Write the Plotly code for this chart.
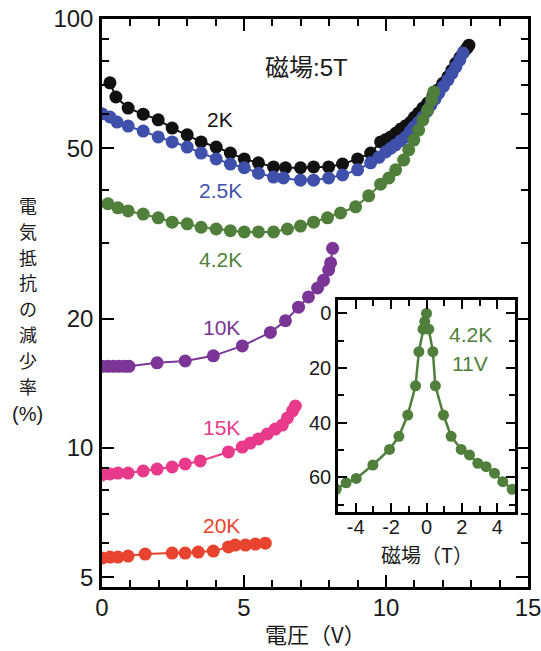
import plotly.graph_objects as go

W, H = 541, 651

# ---------------- data ----------------
v_2k = [0.28, 0.49, 0.92, 1.45, 1.98, 2.47, 3.0, 3.49, 4.02, 4.52, 5.01, 5.51, 6.04, 6.46,
        6.99, 7.45, 7.98, 8.47, 9.0, 9.46, 9.81, 10.0, 10.17, 10.35, 10.52, 10.7, 10.87,
        11.0, 11.15, 11.3, 11.47, 11.65, 11.82, 12.0, 12.18, 12.32, 12.46, 12.6, 12.74,
        12.85, 12.92]
r_2k = [71.0, 65.8, 62.0, 60.0, 58.2, 55.7, 53.7, 51.7, 50.3, 48.7, 47.2, 46.2, 45.2, 45.0,
        45.0, 45.2, 45.2, 45.9, 47.2, 48.7, 51.7, 52.4, 53.1, 54.2, 55.4, 56.4, 57.5,
        59.0, 60.4, 62.0, 63.7, 66.0, 68.3, 70.8, 73.3, 76.0, 78.9, 81.3, 83.8,
        85.5, 86.9]

v_25k = [0.0, 0.28, 0.53, 0.92, 1.45, 1.98, 2.47, 3.0, 3.49, 4.02, 4.52, 5.01, 5.51, 6.04,
         6.39, 6.99, 7.45, 7.98, 8.47, 9.0, 9.46, 9.75, 9.99, 10.17, 10.34, 10.52, 10.7,
         10.85, 10.98, 11.15, 11.3, 11.45, 11.58, 11.72, 11.86, 12.02, 12.18, 12.32, 12.46,
         12.6, 12.71]
r_25k = [60.1, 59.1, 57.5, 56.3, 54.8, 53.1, 51.7, 50.3, 48.7, 47.2, 45.9, 45.0, 43.7, 42.8,
         42.6, 42.1, 42.1, 42.6, 43.3, 44.5, 46.2, 47.6, 49.0, 50.0, 50.9, 52.0, 53.1,
         54.6, 56.0, 57.5, 59.1, 61.0, 63.0, 65.0, 67.2, 69.6, 72.1, 74.7, 77.3,
         80.3, 83.3]

v_42k = [0.21, 0.56, 0.92, 1.45, 1.98, 2.47, 3.0, 3.49, 4.02, 4.52, 5.01, 5.51, 6.04, 6.53,
         6.99, 7.45, 7.94, 8.4, 8.93, 9.39, 9.81, 10.1, 10.34, 10.62, 10.8, 10.98, 11.15,
         11.3, 11.47, 11.61, 11.68]
r_42k = [37.1, 36.3, 35.7, 35.1, 34.4, 33.6, 33.3, 32.7, 32.4, 32.1, 31.9, 31.9, 31.9, 32.4,
         32.9, 33.6, 34.4, 35.3, 36.5, 38.7, 41.2, 42.6, 44.5, 46.9, 49.5, 52.2, 55.1,
         58.2, 61.4, 64.8, 67.6]

v_10k = [0.0, 0.2, 0.4, 0.6, 0.8, 0.95, 1.94, 2.93, 3.92, 4.94, 5.93, 6.46, 6.92, 7.27,
         7.59, 7.8, 7.98, 8.05, 8.12]
r_10k = [15.5, 15.5, 15.5, 15.5, 15.5, 15.5, 15.8, 15.95, 16.4, 17.3, 18.6, 19.8, 21.3, 22.5,
         23.6, 24.6, 26.0, 27.0, 29.2]

v_15k = [0.0, 0.28, 0.56, 0.92, 1.45, 1.94, 2.47, 2.93, 3.46, 4.45, 4.94, 5.22, 5.51, 5.82,
         6.1, 6.35, 6.53, 6.71, 6.81]
r_15k = [8.65, 8.70, 8.74, 8.74, 8.84, 8.93, 9.03, 9.18, 9.33, 9.79, 10.05, 10.27, 10.5, 10.78,
         11.07, 11.31, 11.75, 12.2, 12.53]

v_20k = [0.0, 0.28, 0.56, 0.92, 1.52, 2.47, 2.93, 3.39, 3.92, 4.45, 4.69, 5.05, 5.4, 5.75]
r_20k = [5.54, 5.57, 5.57, 5.60, 5.66, 5.69, 5.69, 5.72, 5.75, 5.88, 5.94, 5.94, 5.97, 6.0]

inset_b = [-5.1, -4.54, -3.97, -3.03, -2.09, -1.56, -1.06, -0.62, -0.43, -0.2, -0.1, 0.0,
           0.13, 0.36, 0.5, 0.96, 1.39, 1.96, 2.43, 2.9, 3.37, 3.84, 4.31, 4.84]
inset_r = [64.4, 62.0, 60.4, 55.5, 49.8, 45.0, 37.2, 26.5, 14.0, 5.8, 3.0, 0.0,
           5.8, 14.0, 26.5, 37.2, 45.0, 49.8, 51.8, 54.9, 56.1, 58.5, 61.6, 64.4]

series = [
    ("2K", v_2k, r_2k, "#111111"),
    ("2.5K", v_25k, r_25k, "#3f50ab"),
    ("4.2K", v_42k, r_42k, "#4f7f3b"),
    ("10K", v_10k, r_10k, "#7a3596"),
    ("15K", v_15k, r_15k, "#e8398b"),
    ("20K", v_20k, r_20k, "#e8432f"),
]
GREEN = "#4f7f3b"

main_yticks = [5, 10, 20, 50, 100]
main_yminor = [6, 7, 8, 9, 30, 40, 60, 70, 80, 90]
main_xticks = [0, 5, 10, 15]
inset_xticks = [-4, -2, 0, 2, 4]
inset_xticktext = ["-4", "-2", "0", "2", "4"]
inset_yticks = [0, 20, 40, 60]
ytitle_chars = ["電", "気", "抵", "抗", "の", "減", "少", "率"]
ytitle_unit = "(%)"

# ---------------- helpers ----------------
def px(x):
    return x / W

def py(y):
    return 1 - y / H

FONT = "Liberation Sans, Arial, Noto Sans CJK JP"
JFONT = "Noto Sans CJK JP, Liberation Sans"

fig = go.Figure()
for name, xs, ys, col in series:
    fig.add_trace(go.Scatter(
        x=xs, y=ys, mode="lines+markers", name=name,
        line=dict(color=col, width=2),
        marker=dict(color=col, size=13),
        xaxis="x", yaxis="y", showlegend=False))

fig.add_trace(go.Scatter(
    x=inset_b, y=inset_r, mode="lines+markers",
    line=dict(color=GREEN, width=2.5), marker=dict(color=GREEN, size=11),
    xaxis="x2", yaxis="y2", showlegend=False))

axis_common = dict(showline=True, linecolor="black", linewidth=2.5, mirror="ticks",
                   ticks="inside", tickwidth=2, tickcolor="black", showgrid=False,
                   zeroline=False, automargin=False, ticklabeloverflow="allow")

fig.update_layout(
    width=W, height=H, autosize=False,
    margin=dict(l=0, r=0, t=0, b=0, pad=0, autoexpand=False),
    paper_bgcolor="white", plot_bgcolor="rgba(0,0,0,0)",
    font=dict(family=FONT, color="#1a1a1a"),
    xaxis=dict(domain=[px(102), px(528)], range=[0, 15], anchor="y",
               tickmode="array", tickvals=main_xticks, ticklen=12, ticklabelstandoff=-3,
               minor=dict(dtick=1, ticks="inside", ticklen=7, tickwidth=2, tickcolor="black"),
               tickfont=dict(size=24), **axis_common),
    yaxis=dict(domain=[py(587), py(19)], type="log", range=[0.676, 2.0], anchor="x",
               tickmode="array", tickvals=main_yticks, ticktext=[str(t) for t in main_yticks],
               ticklen=12, ticklabelstandoff=1,
               minor=dict(tickmode="array", tickvals=main_yminor, ticks="inside", ticklen=7,
                          tickwidth=2, tickcolor="black"),
               tickfont=dict(size=24), **axis_common),
    xaxis2=dict(domain=[px(338), px(515)], range=[-5, 5], anchor="y2",
                tickmode="array", tickvals=inset_xticks, ticktext=inset_xticktext,
                ticklen=9, ticklabelstandoff=-5,
                minor=dict(dtick=1, ticks="inside", ticklen=6, tickwidth=2, tickcolor="black"),
                tickfont=dict(size=20), **axis_common),
    yaxis2=dict(domain=[py(512), py(300)], range=[72.7, -4.9], anchor="x2",
                tickmode="array", tickvals=inset_yticks, ticklen=9,
                minor=dict(dtick=10, tick0=0, ticks="inside", ticklen=6, tickwidth=2, tickcolor="black"),
                tickfont=dict(size=20), **axis_common),
)

fig.add_shape(type="rect", xref="paper", yref="paper",
              x0=px(338), x1=px(515), y0=py(512), y1=py(300),
              fillcolor="white", line=dict(width=0), layer="below")

def ann(text, x, y, size, color="#1a1a1a", family=FONT, **kw):
    fig.add_annotation(text=text, x=px(x), y=py(y), xref="paper", yref="paper",
                       showarrow=False, font=dict(size=size, color=color, family=family),
                       xanchor="center", yanchor="middle", **kw)

ann("磁場:5T", 306, 68, 24)
label_pos = {"2K": (220, 119), "2.5K": (220, 190), "4.2K": (220, 259),
             "10K": (221, 327), "15K": (221, 427), "20K": (221, 525)}
for name, xs, ys, col in series:
    lx, ly = label_pos[name]
    ann(name, lx, ly, 21, color=col)

ann("4.2K", 470, 335, 21, color=GREEN)
ann("11V", 470, 363, 21, color=GREEN)
ann("磁場（T）", 427, 554, 20, family=JFONT)
ann("電圧（V）", 315, 633, 22, family=JFONT)
for i, ch in enumerate(ytitle_chars):
    ann(ch, 28, 205 + 25.8 * i, 18, family=JFONT)
ann(ytitle_unit, 27, 414, 20, family=FONT)

fig.write_html("out.html", config={"displayModeBar": False},
               post_script="document.body.style.margin='0';document.body.style.overflow='hidden';")
